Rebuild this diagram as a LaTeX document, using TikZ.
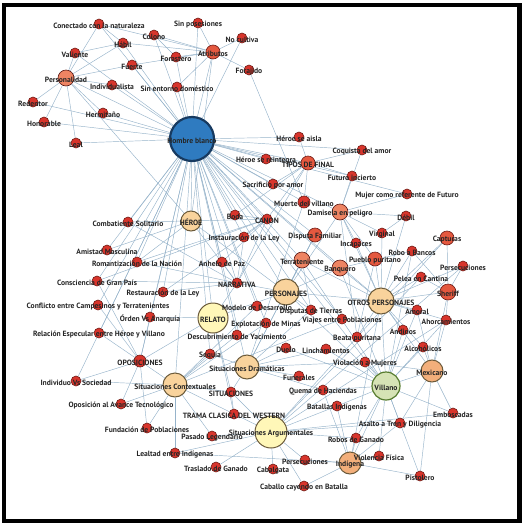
\documentclass[tikz,border=0pt]{standalone}
\usepackage{fontspec}
\newfontfamily\labfont{PT Sans}
\pgfdeclarelayer{bg}
\pgfsetlayers{bg,main}
\definecolor{edgec}{HTML}{96B3CA}
\definecolor{redf}{HTML}{D8352C}
\definecolor{redd}{HTML}{6E1C16}
\definecolor{orf}{HTML}{E4583F}
\definecolor{salf}{HTML}{EE8463}
\definecolor{tanf}{HTML}{F9D39C}
\definecolor{tamf}{HTML}{F3AF7B}
\definecolor{ylf}{HTML}{FFF7B8}
\definecolor{grf}{HTML}{D6E3B5}
\definecolor{blf}{HTML}{2F7BC0}
\definecolor{bld}{HTML}{173A60}
\definecolor{ringd}{HTML}{6B5A3A}
\tikzset{
  nd/.style={circle, draw, inner sep=0pt, line width=0.6pt},
  rn/.style={nd, fill=redf, draw=redd, minimum size=10pt},
  ro/.style={nd, fill=orf, draw=redd, minimum size=14pt},
  rs/.style={nd, fill=salf, draw=redd!80!black, minimum size=16pt},
  tn/.style={nd, fill=tanf, draw=ringd, line width=1pt},
  tm/.style={nd, fill=tamf, draw=ringd, line width=1pt, minimum size=22pt},
  yl/.style={nd, fill=ylf, draw=ringd, line width=1pt},
  gr/.style={nd, fill=grf, draw=ringd!80!green, line width=1.2pt, minimum size=28pt},
  bl/.style={nd, fill=blf, draw=bld, line width=2.2pt, minimum size=44pt},
  edge/.style={draw=edgec, line width=0.45pt},
  lab/.style={font=\labfont\bfseries\fontsize{7.6}{9}\selectfont, text=black!85, inner sep=0pt},
  frame/.style={draw=black, line width=4.5pt}
}
\begin{document}
\begin{tikzpicture}[x=1pt,y=-1pt]
\useasboundingbox (0,0) rectangle (526,528);
\draw[frame] (4,5) rectangle (519.5,521);
% nodes
\node[rn] (conect) at (99,24) {};
\node[rn] (sinpos) at (198,23) {};
\node[rn] (habil) at (123,43) {};
\node[rn] (colono) at (154,35) {};
\node[rn] (nocult) at (242,38) {};
\node[rn] (valiente) at (75,53) {};
\node[ro] (atrib) at (213,52) {};
\node[rn] (forast) at (176,57) {};
\node[rn] (fuerte) at (132,65) {};
\node[rn] (forajido) at (249,70) {};
\node[rs] (personal) at (66,78) {};
\node[rn] (indiv) at (112,85) {};
\node[rn] (sinent) at (177,87) {};
\node[rn] (redentor) at (33,102) {};
\node[rn] (hermit) at (103,113) {};
\node[rn] (honor) at (44,122) {};
\node[rn] (leal) at (76,143) {};
\node[bl] (hombre) at (192,139) {};
\node[rn] (heroeaisla) at (299,137) {};
\node[rn] (coquista) at (362,150) {};
\node[rn] (reinteg) at (266,159) {};
\node[ro] (tipos) at (308,163) {};
\node[rn] (futuro) at (352,176) {};
\node[rn] (sacrif) at (273,184) {};
\node[rn] (mujer) at (407,194) {};
\node[rn, minimum size=12pt] (muerte) at (304,202) {};
\node[rs] (damisela) at (340,212) {};
\node[rn] (debil) at (406,216) {};
\node[rn] (boda) at (235,215) {};
\node[rn] (canon) at (267,219) {};
\node[tn, minimum size=20pt] (heroe) at (191,221) {};
\node[rn] (combat) at (128,222) {};
\node[rn] (instaur) at (244,237) {};
\node[ro] (disputaf) at (315,235) {};
\node[rn] (virginal) at (382,233) {};
\node[rn] (incap) at (356,243) {};
\node[ro] (capturas) at (447,238) {};
\node[rn] (amistad) at (107,250) {};
\node[rn] (robo) at (412,251) {};
\node[ro] (pueblo) at (375,259) {};
\node[rn] (romant) at (137,262) {};
\node[rn] (anhelo) at (222,262) {};
\node[rs] (terrat) at (302,260) {};
\node[rs] (banq) at (340,268) {};
\node[rn] (persecA) at (463,266) {};
\node[rn] (pelea) at (421,277) {};
\node[rn] (consc) at (97,281) {};
\node[rn] (narr) at (237,283) {};
\node[tn, minimum size=26pt] (personajes) at (286,292) {};
\node[rn] (restaur) at (163,292) {};
\node[ro, minimum size=16pt] (sheriff) at (448,292) {};
\node[tn, minimum size=26pt] (otros) at (381,301) {};
\node[rn] (conflicto) at (98,305) {};
\node[rn] (modelo) at (257,306) {};
\node[rn] (disputas) at (311,310) {};
\node[rn] (amoral) at (417,310) {};
\node[yl, minimum size=30pt] (relato) at (213,318) {};
\node[rn] (orden) at (150,317) {};
\node[rn] (ahorc) at (446,320) {};
\node[rn] (viajes) at (342,319) {};
\node[rn] (explot) at (266,323) {};
\node[rn] (andinos) at (403,330) {};
\node[rn] (relacion) at (99,333) {};
\node[rn] (descub) at (237,335) {};
\node[rn] (beata) at (357,337) {};
\node[rn] (alcoh) at (423,347) {};
\node[rn] (duelo) at (286,348) {};
\node[rn] (linch) at (326,349) {};
\node[rn] (sequia) at (210,354) {};
\node[rn, minimum size=12pt] (oposic) at (140,361) {};
\node[rn] (violacion) at (365,362) {};
\node[tn, minimum size=24pt] (sitdram) at (247,367) {};
\node[tm] (mexicano) at (432,371) {};
\node[rn] (funer) at (299,376) {};
\node[rn] (individuo) at (76,381) {};
\node[tn, minimum size=24pt] (sitcont) at (175,385) {};
\node[gr] (villano) at (386,386) {};
\node[rn] (sitn) at (231,392) {};
\node[rn] (quema) at (323,390) {};
\node[rn] (oposav) at (121,404) {};
\node[rn] (batallas) at (337,406) {};
\node[rn] (emboscadas) at (453,413) {};
\node[rn] (trama) at (234,414) {};
\node[rn] (asalto) at (400,423) {};
\node[rn] (fundac) at (147,428) {};
\node[yl, minimum size=32pt] (sitarg) at (271,432) {};
\node[rn] (pasado) at (212,436) {};
\node[rn] (robosg) at (356,438) {};
\node[rn] (lealtad) at (175,453) {};
\node[rn] (violencia) at (379,456) {};
\node[rn] (persecB) at (305,460) {};
\node[tm] (indigena) at (350,463) {};
\node[rn] (traslado) at (216,467) {};
\node[rn] (cabalg) at (273,469) {};
\node[rn] (pistolero) at (420,476) {};
\node[rn] (caballo) at (304,486) {};
% edges
\begin{pgfonlayer}{bg}
\foreach \a/\b in {
hombre/atrib, hombre/personal, hombre/forast, hombre/sinent, hombre/colono, hombre/indiv,
hombre/hermit, hombre/honor, hombre/leal, hombre/redentor, hombre/fuerte, hombre/valiente,
hombre/habil, hombre/conect, hombre/sinpos, hombre/nocult, hombre/heroeaisla, hombre/tipos,
hombre/reinteg, hombre/sacrif, hombre/heroe, hombre/combat, hombre/canon, hombre/boda,
hombre/instaur, hombre/amistad, hombre/romant, hombre/anhelo, hombre/narr, hombre/restaur,
hombre/consc, hombre/conflicto, hombre/orden, hombre/relacion, hombre/relato, hombre/oposic,
hombre/sitcont, hombre/disputaf, hombre/terrat, hombre/personajes, hombre/muerte,
hombre/damisela, hombre/futuro, hombre/coquista, hombre/otros, hombre/modelo, hombre/descub,
hombre/sequia, hombre/explot, hombre/sitdram, hombre/individuo, hombre/mujer, hombre/banq,
hombre/viajes, hombre/disputas, hombre/villano,
atrib/sinpos, atrib/nocult, atrib/forajido, atrib/colono, atrib/forast, atrib/sinent,
atrib/fuerte, atrib/habil, atrib/conect, atrib/heroe,
personal/valiente, personal/redentor, personal/honor, personal/leal, personal/hermit,
personal/indiv, personal/fuerte, personal/habil, personal/conect, personal/heroe,
forajido/muerte, conect/habil, valiente/habil, colono/forast,
tipos/heroeaisla, tipos/coquista, tipos/reinteg, tipos/futuro, tipos/sacrif, tipos/muerte,
tipos/boda, tipos/canon, tipos/narr,
damisela/mujer, damisela/debil, damisela/virginal, damisela/incap, damisela/pueblo,
damisela/beata, damisela/coquista, damisela/futuro, damisela/otros, damisela/personajes,
otros/banq, otros/terrat, otros/sheriff, otros/pueblo, otros/beata, otros/mexicano,
otros/indigena, otros/andinos, otros/amoral, otros/alcoh, otros/capturas, otros/persecA,
otros/pelea, otros/robo, otros/ahorc, otros/villano, otros/personajes, otros/debil,
otros/virginal, otros/incap,
personajes/heroe, personajes/villano, personajes/relato, personajes/narr, personajes/terrat,
personajes/banq, personajes/disputaf, personajes/disputas,
heroe/combat, heroe/amistad, heroe/romant, heroe/canon, heroe/narr,
canon/narr, canon/instaur, canon/boda, canon/anhelo, canon/restaur, canon/romant, canon/consc,
narr/relato, narr/anhelo, narr/instaur, narr/restaur, narr/romant, narr/consc, narr/combat,
relato/trama, relato/sitn, relato/oposic, relato/orden,
oposic/individuo, oposic/oposav, oposic/fundac, oposic/orden, oposic/conflicto, oposic/relacion,
oposic/consc, oposic/sitcont,
sitn/sitdram, sitn/sitcont, sitn/sitarg, sitn/trama, trama/sitarg, trama/sitcont,
sitdram/sequia, sitdram/duelo, sitdram/linch, sitdram/funer, sitdram/quema, sitdram/violacion,
sitdram/disputaf, sitdram/disputas, sitdram/muerte, sitdram/terrat,
sitcont/fundac, sitcont/oposav, sitcont/descub, sitcont/explot, sitcont/modelo, sitcont/viajes,
sitcont/pasado, sitcont/lealtad, sitcont/individuo, sitcont/sequia,
sitarg/traslado, sitarg/cabalg, sitarg/persecB, sitarg/caballo, sitarg/batallas, sitarg/asalto,
sitarg/robosg, sitarg/pasado, sitarg/lealtad, sitarg/emboscadas, sitarg/pelea, sitarg/capturas,
sitarg/persecA, sitarg/ahorc,
villano/mexicano, villano/indigena, villano/robosg, villano/asalto, villano/violencia,
villano/violacion, villano/linch, villano/amoral, villano/alcoh, villano/pistolero,
villano/emboscadas, villano/quema, villano/batallas, villano/robo, villano/ahorc, villano/banq,
villano/terrat, villano/andinos, villano/duelo,
mexicano/emboscadas, mexicano/pistolero, mexicano/alcoh, mexicano/sheriff, mexicano/asalto,
mexicano/amoral, mexicano/ahorc, mexicano/violacion,
indigena/violencia, indigena/persecB, indigena/caballo, indigena/robosg, indigena/batallas,
indigena/lealtad, indigena/pistolero, indigena/asalto, indigena/quema,
sheriff/capturas, sheriff/persecA, sheriff/pelea, sheriff/ahorc, sheriff/robo,
banq/robo, terrat/disputas, terrat/disputaf, debil/virginal, pueblo/beata}
\draw[edge] (\a) -- (\b);
\end{pgfonlayer}
% labels
\foreach \n/\t in {
conect/Conectado con la naturaleza, sinpos/Sin posesiones, habil/Hábil, colono/Colono,
nocult/No cultiva, valiente/Valiente, atrib/Atributos, forast/Forastero, fuerte/Fuerte,
forajido/Forajido, personal/Personalidad, indiv/Individualista, sinent/Sin entorno doméstico,
redentor/Redentor, hermit/Hermitaño, honor/Honorable, leal/Leal, hombre/Hombre blanco,
heroeaisla/Héroe se aisla, coquista/Coquista del amor, reinteg/Héroe se reintegra,
tipos/TIPOS DE FINAL, futuro/Futuro incierto, sacrif/Sacrificio por amor,
mujer/Mujer como referente de Futuro, muerte/Muerte del villano, damisela/Damisela en peligro,
debil/Débil, boda/Boda, canon/CANON, heroe/HÉROE, combat/Combatiente Solitario,
instaur/Instauración de la Ley, disputaf/Disputa Familiar, virginal/Virginal, incap/Incapaces,
capturas/Capturas, amistad/Amistad Masculina, robo/Robo a Bancos, pueblo/Pueblo puritano,
romant/Romantización de la Nación, anhelo/Anhelo de Paz, terrat/Terrateniente, banq/Banquero,
persecA/Persecuciones, pelea/Pelea en Cantina, consc/Consciencia de Gran País, narr/NARRATIVA,
personajes/PERSONAJES, restaur/Restauración de la Ley, sheriff/Sheriff,
otros/OTROS PERSONAJES, conflicto/Conflicto entre Campesinos y Terratenientes,
modelo/Modelo de Desarrollo, disputas/Disputas de Tierras, amoral/Amoral, relato/RELATO,
orden/Órden Vs Anarquía, ahorc/Ahorcamientos, viajes/Viajes entre Poblaciones,
explot/Explotación de Minas, andinos/Andinos, relacion/Relación Especular entre Héroe y Villano,
descub/Descubrimiento de Yacimiento, beata/Beata puritana, alcoh/Alcohólicos, duelo/Duelo,
linch/Linchamientos, sequia/Sequía, oposic/OPOSICIONES, violacion/Violación a Mujeres,
sitdram/Situaciones Dramáticas, mexicano/Mexicano, funer/Funerales,
individuo/Individuo Vs Sociedad, sitcont/Situaciones Contextuales, villano/Villano,
sitn/SITUACIONES, quema/Quema de Haciendas, oposav/Oposición al Avance Tecnológico,
batallas/Batallas Indígenas, emboscadas/Emboscadas, trama/TRAMA CLASICA DEL WESTERN,
asalto/Asalto a Tren y Diligencia, fundac/Fundación de Poblaciones,
sitarg/Situaciones Argumentales, pasado/Pasado Legendario, robosg/Robos de Ganado,
lealtad/Lealtad entre Indígenas, violencia/Violencia Física, persecB/Persecuciones,
indigena/Indígena, traslado/Traslado de Ganado, cabalg/Cabalgata, pistolero/Pistolero,
caballo/Caballo cayendo en Batalla}
\node[lab] (l\n) at ([yshift=-1.5pt]\n.center) {\t};
\end{tikzpicture}
\end{document}
